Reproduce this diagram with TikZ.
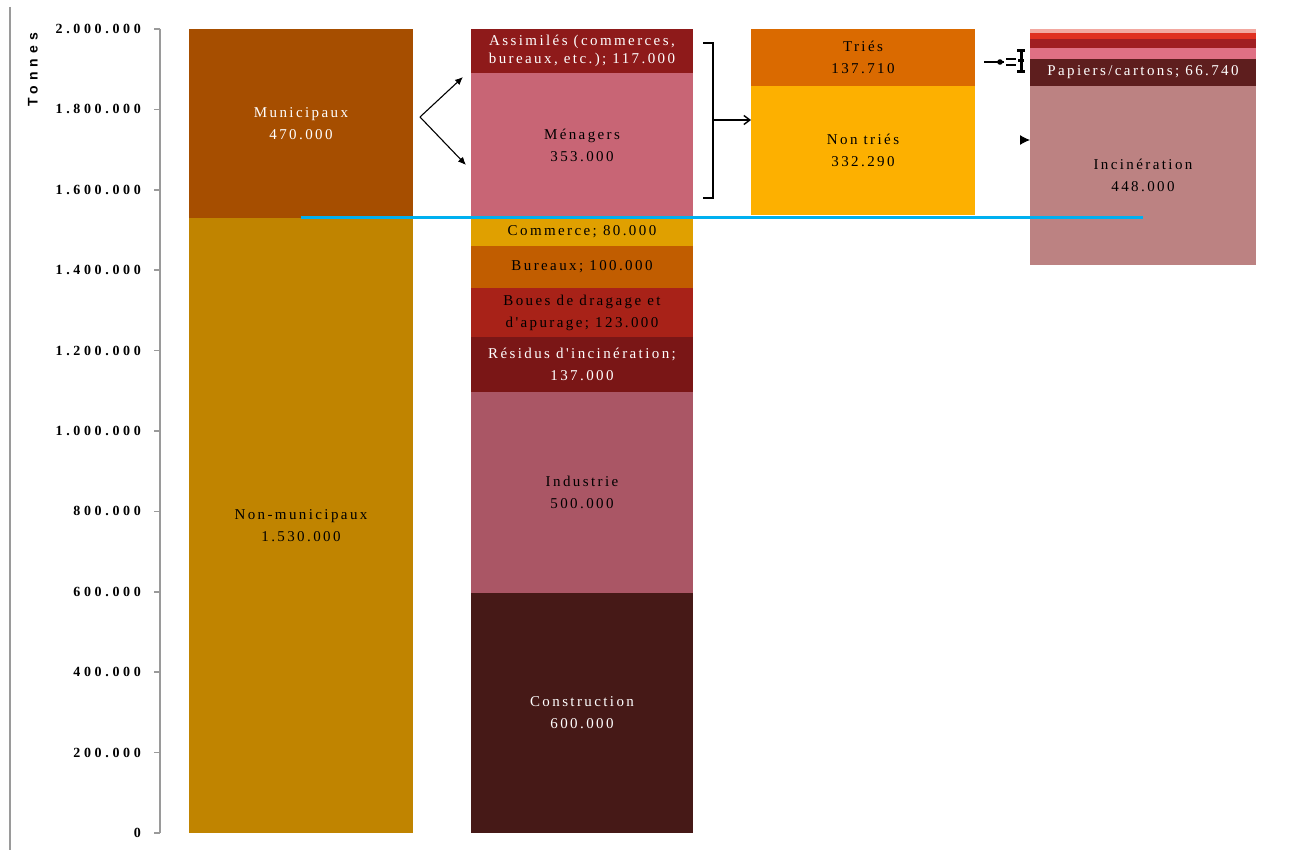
\documentclass[tikz,border=0pt]{standalone}
\usepackage{fontspec}
\setmainfont{Liberation Serif}
\newfontfamily\barfont{Liberation Serif}[LetterSpace=16]
\newfontfamily\axfont{Liberation Serif}[LetterSpace=26]
\newfontfamily\tonfont{Liberation Sans}[LetterSpace=36]
\usetikzlibrary{arrows.meta,calc}
\definecolor{cMun}{HTML}{A64E00}
\definecolor{cNon}{HTML}{C08400}
\definecolor{cAss}{HTML}{8E1A1A}
\definecolor{cMen}{HTML}{C86575}
\definecolor{cCom}{HTML}{E0A000}
\definecolor{cBur}{HTML}{C15D00}
\definecolor{cBou}{HTML}{A82218}
\definecolor{cRes}{HTML}{7A1616}
\definecolor{cInd}{HTML}{AA5665}
\definecolor{cCon}{HTML}{461917}
\definecolor{cTri}{HTML}{DA6A00}
\definecolor{cNtr}{HTML}{FDB000}
\definecolor{cSa}{HTML}{F2A8A0}
\definecolor{cSb}{HTML}{E03020}
\definecolor{cSc}{HTML}{A01E22}
\definecolor{cSd}{HTML}{E07084}
\definecolor{cPap}{HTML}{5E1E1E}
\definecolor{cInc}{HTML}{BC8282}
\definecolor{cBlue}{HTML}{00B0F0}
\definecolor{cAxis}{HTML}{9A9A9A}
\begin{document}
\begin{tikzpicture}[x=1pt,y=-1pt,
  seg/.style={draw=none, inner sep=0pt, outer sep=0pt, align=center,
    font=\barfont\fontsize{15}{22}\selectfont},
  axlab/.style={anchor=east, inner sep=0pt, font=\axfont\bfseries\fontsize{14}{14}\selectfont},
  axisline/.style={draw=cAxis, line width=1.6pt},
  arr/.style={-{Latex[length=8pt,width=7pt]}, line width=1.1pt},
  brk/.style={line width=1.4pt}]
\useasboundingbox (0,0) rectangle (1289,850);
\fill[white] (0,0) rectangle (1289,850);
% frame and axis
\draw[axisline] (10,7) -- (10,850);
\draw[axisline] (160,29) -- (160,833);
\foreach \v/\t in {0/0,1/200.000,2/400.000,3/600.000,4/800.000,5/1.000.000,6/1.200.000,7/1.400.000,8/1.600.000,9/1.800.000,10/2.000.000}{
  \pgfmathsetmacro{\yy}{833-\v*80.4}
  \draw[axisline] (154,\yy) -- (160,\yy);
  \node[axlab] (tick\v) at (141,\yy) {\t};
}
\node[rotate=90, inner sep=0pt, font=\tonfont\bfseries\fontsize{14}{14}\selectfont] (ylab) at (33,70) {Tonnes};
% column 1
\node[seg, fill=cMun, text=white, minimum width=224pt, minimum height=189pt] (mun) at (301,123.5) {Municipaux\\470.000};
\node[seg, fill=cNon, minimum width=224pt, minimum height=615pt] (nonmun) at (301,525.5) {Non-municipaux\\1.530.000};
% column 2
\node[seg, fill=cAss, text=white, minimum width=222pt, minimum height=44pt, font=\barfont\fontsize{15}{18}\selectfont] (assim) at (582,51) {Assimilés (commerces,\\bureaux, etc.); 117.000};
\node[seg, fill=cMen, minimum width=222pt, minimum height=145pt] (men) at (582,145.5) {Ménagers\\353.000};
\node[seg, fill=cCom, minimum width=222pt, minimum height=28pt] (comm) at (582,232) {Commerce; 80.000};
\node[seg, fill=cBur, minimum width=222pt, minimum height=42pt] (bur) at (582,267) {Bureaux; 100.000};
\node[seg, fill=cBou, minimum width=222pt, minimum height=49pt] (boues) at (582,312.5) {Boues de dragage et\\d'apurage; 123.000};
\node[seg, fill=cRes, text=white, minimum width=222pt, minimum height=55pt] (resid) at (582,364.5) {Résidus d'incinération;\\137.000};
\node[seg, fill=cInd, minimum width=222pt, minimum height=201pt] (indus) at (582,492.5) {Industrie\\500.000};
\node[seg, fill=cCon, text=white, minimum width=222pt, minimum height=240pt] (constr) at (582,713) {Construction\\600.000};
% column 3
\node[seg, fill=cTri, minimum width=224pt, minimum height=57pt] (tries) at (863,57.5) {Triés\\137.710};
\node[seg, fill=cNtr, minimum width=224pt, minimum height=129pt] (nontries) at (863,150.5) {Non triés\\332.290};
% column 4
\node[seg, fill=cSa, minimum width=226pt, minimum height=4pt] (sa) at (1143,31) {};
\node[seg, fill=cSb, minimum width=226pt, minimum height=6pt] (sb) at (1143,36) {};
\node[seg, fill=cSc, minimum width=226pt, minimum height=9pt] (sc) at (1143,43.5) {};
\node[seg, fill=cSd, minimum width=226pt, minimum height=11pt] (sd) at (1143,53.5) {};
\node[seg, fill=cPap, text=white, minimum width=226pt, minimum height=27pt] (pap) at (1143,72.5) {Papiers/cartons; 66.740};
\node[seg, fill=cInc, minimum width=226pt, minimum height=179pt] (incin) at (1143,175.5) {Incinération\\448.000};
% blue line
\draw[draw=cBlue, line width=3pt] (mun.south) -- (incin.center |- mun.south);
% split arrows
\coordinate (split) at (420,117);
\draw[arr] (split) -- ([xshift=-8pt,yshift=-4pt]assim.south west);
\draw[arr] (split) -- ([xshift=-5pt,yshift=-19.5pt]men.west);
% bracket
\draw[brk] (703,43) -- (713,43) -- (713,198) -- (703,198);
\coordinate (brkmid) at (713,120);
\draw[brk, -{Straight Barb[length=6pt,width=9pt]}] (brkmid) -- ([yshift=30.5pt]nontries.west);
% tiny connectors to column 4
\coordinate (sortsrc) at (984,62);
\draw[line width=2pt] (sortsrc) -- (1004,62);
\fill (1000,62) circle (2.8pt);
\draw[line width=1.8pt] (1006,59) -- (1016,59) (1006,65) -- (1016,65);
\draw[line width=3pt] (1021,51) -- (1021,72);
\draw[line width=3pt] (1017,51) -- (1025,51) (1017,72) -- (1025,72) (1018,61) -- (1024,61);
\draw[-{Latex[length=10pt,width=10pt]}, line width=1pt] ([xshift=-10pt,yshift=35.5pt]incin.west) -- ([yshift=35.5pt]incin.west);
\end{tikzpicture}
\end{document}
